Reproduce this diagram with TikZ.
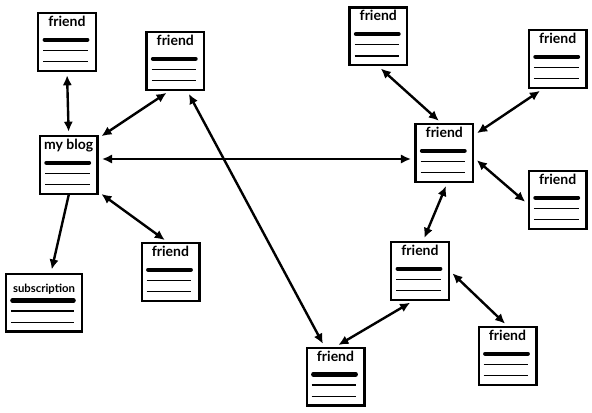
\documentclass[tikz,border=0pt]{standalone}
\usepackage{fontspec}
\setmainfont{Lato}
\usetikzlibrary{arrows.meta}
\tikzset{
	page/.style={draw, line width=1.8pt, fill=white, minimum width=43.2pt, minimum height=43.2pt, inner sep=0pt,
		path picture={
			\draw[line width=3.2pt, line cap=round] ([shift={(6.5,26.5)}]path picture bounding box.north west) -- ([shift={(-8.5,26.5)}]path picture bounding box.north east);
			\draw[line width=1pt] ([shift={(5,37)}]path picture bounding box.north west) -- ([shift={(-8,37)}]path picture bounding box.north east);
			\draw[line width=1pt] ([shift={(5,48.5)}]path picture bounding box.north west) -- ([shift={(-8,48.5)}]path picture bounding box.north east);
		}},
	title/.style={anchor=base, yshift=-11pt, inner sep=0pt, font=\fontsize{10.5}{12}\selectfont\bfseries},
	smalltitle/.style={anchor=base, yshift=-14.5pt, inner sep=0pt, font=\fontsize{8.5}{10}\selectfont\bfseries},
	diredge/.style={->, >={Latex[length=7.5pt,width=7pt]}, line width=1.8pt, shorten >=2.5pt},
	bidiredge/.style={<->, >={Latex[length=7.5pt,width=7pt]}, line width=1.8pt, shorten >=2.5pt, shorten <=2.5pt}
}
\begin{document}
\begin{tikzpicture}[x=0.75pt, y=-0.75pt]
	\useasboundingbox (0,0) rectangle (592,412);
	
	%%%% my blog and its pages
	\node[page, label={[title]north:my blog}] (blog) at (68.7,165) {};
	\node[page, minimum width=57.2pt, label={[smalltitle]north:subscription}] (sub) at (44,302.7) {};
	\node[page, label={[title]north:friend}] (f1) at (67,42) {};
	\node[page, label={[title]north:friend}] (f2) at (175.3,61) {};
	\node[page, label={[title]north:friend}] (f3) at (170.5,272) {};
	
	%%%% friends on the right
	\node[page, label={[title]north:friend}] (hub) at (444.3,153) {};
	\node[page, label={[title]north:friend}] (f4) at (378.3,36.3) {};
	\node[page, label={[title]north:friend}] (f5) at (557.7,59) {};
	\node[page, label={[title]north:friend}] (f6) at (557.7,200) {};
	\node[page, label={[title]north:friend}] (f7) at (420,271) {};
	\node[page, label={[title]north:friend}] (f8) at (507.5,356) {};
	\node[page, label={[title]north:friend}] (f9) at (335.5,376.7) {};
	
	\draw[bidiredge] (f1.south) -- (blog.north);
	\draw[bidiredge] ([shift={(0,3)}]blog.north east) -- ([shift={(-6,0)}]f2.south);
	\draw[bidiredge] ([shift={(0,-6)}]blog.east) -- ([shift={(0,6)}]hub.west);
	\draw[diredge] (blog.south) -- ([shift={(7,0)}]sub.north);
	\draw[bidiredge] ([shift={(0,-3)}]blog.south east) -- ([shift={(-3,0)}]f3.north);
	\draw[bidiredge] ([shift={(12,0)}]f2.south) -- ([shift={(-11,0)}]f9.north);
	
	\draw[bidiredge] (f4.south) -- ([shift={(-3,0)}]hub.north);
	\draw[bidiredge] ([shift={(-15,0)}]f5.south) -- ([shift={(0,-18)}]hub.east);
	\draw[bidiredge] ([shift={(0,4)}]f6.west) -- ([shift={(0,5)}]hub.east);
	\draw[bidiredge] ([shift={(3,0)}]f7.north) -- ([shift={(3,0)}]hub.south);
	\draw[bidiredge] ([shift={(-7,0)}]f7.south) -- (f9.north);
	\draw[bidiredge] (f7.east) -- (f8.north);
\end{tikzpicture}
\end{document}
